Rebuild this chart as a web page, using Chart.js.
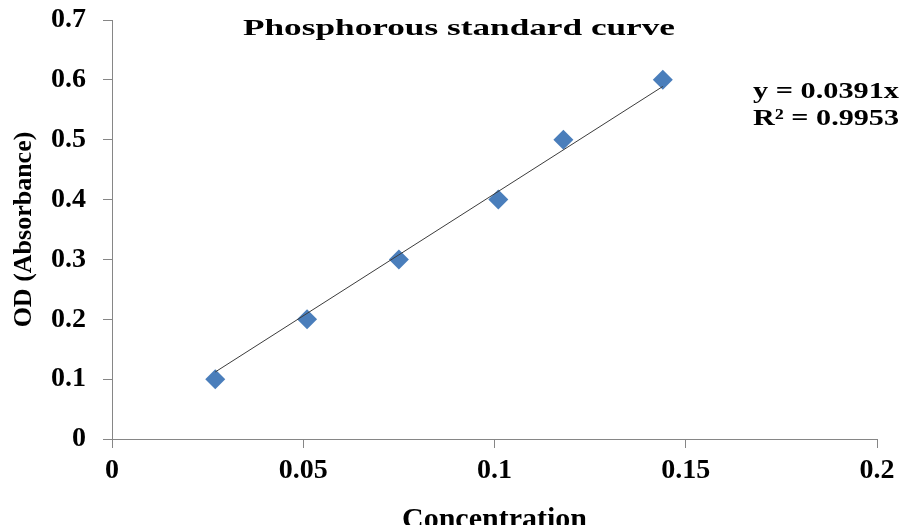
<!DOCTYPE html>
<html>
<head>
<meta charset="utf-8">
<script src="https://cdn.jsdelivr.net/npm/chart.js@4.4.1/dist/chart.umd.min.js"></script>
<style>
  html, body { margin: 0; padding: 0; background: #ffffff; }
  #wrap { width: 905px; height: 525px; position: relative; }
</style>
</head>
<body>
<div id="wrap"><canvas id="c" width="905" height="525"></canvas></div>
<script>
// ---- data ----
const concentration = [0.027, 0.051, 0.075, 0.101, 0.118, 0.144];
const absorbance    = [0.1, 0.2, 0.3, 0.4, 0.5, 0.6];
const trendX = [0.027, 0.144];
const trendY = [0.112, 0.589];
const xTickLabels = ['0', '0.05', '0.1', '0.15', '0.2'];
const yTickLabels = ['0', '0.1', '0.2', '0.3', '0.4', '0.5', '0.6', '0.7'];
const chartTitle = 'Phosphorous standard curve';
const equationLines = ['y = 0.0391x', 'R\u00B2 = 0.9953'];
const xTitle = 'Concentration';
const yTitle = 'OD (Absorbance)';

const SERIF = '"Liberation Serif", "Times New Roman", serif';
const AXIS_GRAY = '#868686';

function drawFitted(ctx, text, left, baseline, font, width) {
  ctx.save();
  ctx.font = font;
  const w = ctx.measureText(text).width;
  ctx.translate(left, baseline);
  ctx.scale(width / w, 1);
  ctx.textBaseline = 'alphabetic';
  ctx.textAlign = 'left';
  ctx.fillStyle = '#000000';
  ctx.fillText(text, 0, 0);
  ctx.restore();
}

const textPlugin = {
  id: 'textPlugin',
  beforeDraw(chart) {
    const ctx = chart.ctx;
    ctx.save();
    ctx.fillStyle = '#ffffff';
    ctx.fillRect(0, 0, chart.width, chart.height);
    ctx.restore();
  },
  afterDraw(chart) {
    const ctx = chart.ctx;
    drawFitted(ctx, chartTitle, 243, 35, 'bold 24px ' + SERIF, 432);
    drawFitted(ctx, equationLines[0], 753, 98, 'bold 23px ' + SERIF, 146);
    drawFitted(ctx, equationLines[1], 753, 125, 'bold 23px ' + SERIF, 146);
  }
};

new Chart(document.getElementById('c'), {
  type: 'scatter',
  data: {
    datasets: [
      {
        label: 'Linear trend',
        data: trendX.map((x, i) => ({ x: x, y: trendY[i] })),
        showLine: true,
        borderColor: '#3c3c3c',
        borderWidth: 1,
        pointRadius: 0,
        order: 0
      },
      {
        label: 'Standard',
        data: concentration.map((x, i) => ({ x: x, y: absorbance[i] })),
        pointStyle: 'rectRot',
        pointRadius: 10,
        pointHoverRadius: 10,
        backgroundColor: '#4a7ebb',
        borderColor: '#4a7ebb',
        borderWidth: 0,
        order: 1
      }
    ]
  },
  options: {
    responsive: false,
    animation: false,
    devicePixelRatio: 1,
    layout: { padding: { left: 0, right: 28, top: 20, bottom: 0 } },
    plugins: {
      legend: { display: false },
      title: { display: false },
      tooltip: { enabled: false }
    },
    scales: {
      x: {
        type: 'linear',
        min: 0,
        max: 0.2,
        afterFit(scale) { scale.height = 86; scale.paddingLeft = 0; scale.paddingRight = 0; },
        afterBuildTicks(scale) {
          scale.ticks = xTickLabels.map(v => ({ value: parseFloat(v) }));
        },
        ticks: {
          padding: 6,
          color: '#000000',
          font: { family: SERIF, size: 28, weight: 'bold' },
          maxRotation: 0,
          callback: (v, i) => xTickLabels[i]
        },
        grid: { drawOnChartArea: false, drawTicks: true, tickLength: 9, color: AXIS_GRAY, lineWidth: 1 },
        border: { display: true, color: AXIS_GRAY, width: 1 },
        title: {
          display: true,
          text: xTitle,
          color: '#000000',
          font: { family: SERIF, size: 30, weight: 'bold', lineHeight: 0.3 },
          padding: { top: 0, bottom: 0 }
        }
      },
      y: {
        type: 'linear',
        min: 0,
        max: 0.7,
        afterFit(scale) { scale.width = 112; scale.paddingTop = 0; scale.paddingBottom = 0; },
        afterBuildTicks(scale) {
          scale.ticks = yTickLabels.map(v => ({ value: parseFloat(v) }));
        },
        ticks: {
          padding: 17,
          color: '#000000',
          font: { family: SERIF, size: 28, weight: 'bold' },
          callback: (v, i) => yTickLabels[i]
        },
        grid: { drawOnChartArea: false, drawTicks: true, tickLength: 9, color: AXIS_GRAY, lineWidth: 1 },
        border: { display: true, color: AXIS_GRAY, width: 1 },
        title: {
          display: true,
          text: yTitle,
          color: '#000000',
          font: { family: SERIF, size: 26, weight: 'bold', lineHeight: 1 },
          padding: { top: 11, bottom: 0 }
        }
      }
    }
  },
  plugins: [textPlugin]
});
</script>
</body>
</html>
